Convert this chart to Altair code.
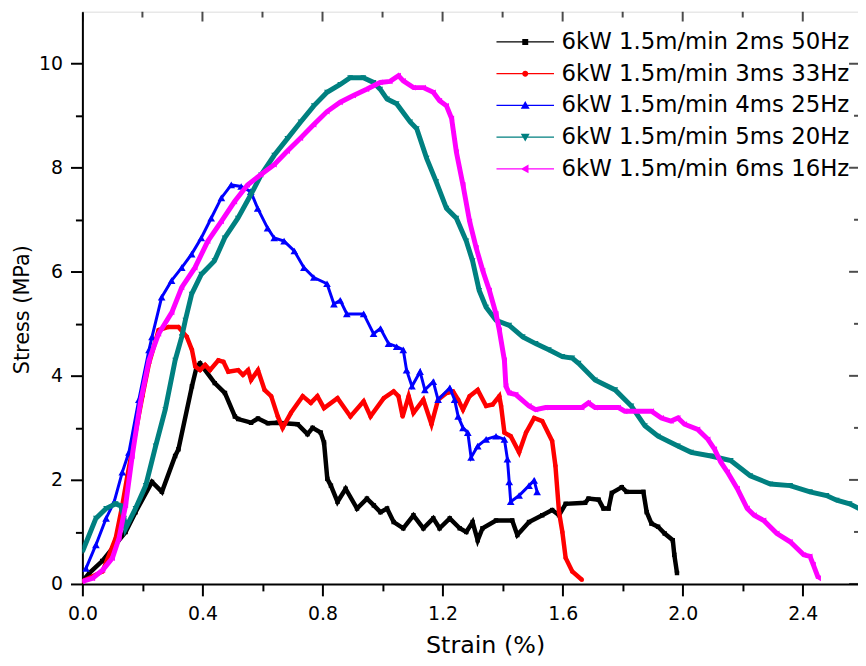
import altair as alt
import pandas as pd

labels = ["6kW 1.5m/min 2ms 50Hz", "6kW 1.5m/min 3ms 33Hz", "6kW 1.5m/min 4ms 25Hz",
          "6kW 1.5m/min 5ms 20Hz", "6kW 1.5m/min 6ms 16Hz"]
colors = ["#000000", "#ff0000", "#0000ff", "#008080", "#ff00ff"]
marker_shapes = ["square", "circle", "triangle-up", "triangle-down", "triangle-left"]
marker_sizes = [20, 20, 60, 35, 35]
line_widths = [4.5, 4.5, 3, 5, 5]

legend_paths = [
    "M-2.9,-0.06H2.9V0.06H-2.9Z M-0.3,-0.3H0.3V0.3H-0.3Z",
    "M-2.9,-0.06H2.9V0.06H-2.9Z M-0.3,0A0.3,0.3 0 1,1 0.3,0A0.3,0.3 0 1,1 -0.3,0Z",
    "M-2.9,-0.06H2.9V0.06H-2.9Z M0,-0.45L0.45,0.33L-0.45,0.33Z",
    "M-2.9,-0.06H2.9V0.06H-2.9Z M0,0.45L-0.45,-0.33L0.45,-0.33Z",
    "M-2.9,-0.06H2.9V0.06H-2.9Z M-0.45,0L0.33,-0.45L0.33,0.45Z",
]

black_x = [0.0, 0.023, 0.066, 0.144, 0.177, 0.232, 0.265, 0.309, 0.32, 0.365, 0.381, 0.392, 0.441, 0.475,
           0.508, 0.519, 0.562, 0.585, 0.618, 0.651, 0.717, 0.75, 0.767, 0.794, 0.805, 0.816, 0.828, 0.85,
           0.877, 0.915, 0.948, 0.971, 0.993, 1.015, 1.037, 1.069, 1.103, 1.136, 1.169, 1.19, 1.224, 1.257,
           1.279, 1.3, 1.317, 1.333, 1.378, 1.432, 1.449, 1.488, 1.532, 1.565, 1.588, 1.61, 1.675, 1.686,
           1.72, 1.736, 1.753, 1.764, 1.797, 1.813, 1.869, 1.88, 1.896, 1.918, 1.94, 1.967, 1.972, 1.981]
black_y = [0.05, 0.21, 0.44, 1.0, 1.38, 1.96, 1.77, 2.46, 2.59, 3.8, 4.18, 4.24, 3.86, 3.67,
           3.22, 3.17, 3.10, 3.18, 3.09, 3.1, 3.07, 2.88, 3.0, 2.91, 2.72, 2.02, 1.89, 1.58,
           1.83, 1.45, 1.64, 1.51, 1.38, 1.45, 1.19, 1.07, 1.32, 1.07, 1.26, 1.07, 1.26, 1.07,
           1.0, 1.19, 0.84, 1.07, 1.22, 1.22, 0.94, 1.19, 1.32, 1.42, 1.32, 1.54, 1.56, 1.64,
           1.62, 1.45, 1.45, 1.75, 1.86, 1.77, 1.77, 1.38, 1.16, 1.1, 0.97, 0.84, 0.56, 0.21]

red_x = [0.0, 0.067, 0.111, 0.133, 0.15, 0.177, 0.2, 0.222, 0.254, 0.287, 0.32, 0.348, 0.365, 0.376,
         0.392, 0.409, 0.425, 0.453, 0.47, 0.486, 0.519, 0.535, 0.552, 0.562, 0.585, 0.607, 0.629, 0.651,
         0.667, 0.695, 0.734, 0.761, 0.783, 0.805, 0.85, 0.893, 0.937, 0.96, 1.004, 1.037, 1.053, 1.067,
         1.087, 1.103, 1.136, 1.163, 1.185, 1.213, 1.235, 1.252, 1.268, 1.29, 1.317, 1.345, 1.367, 1.389,
         1.395, 1.406, 1.427, 1.455, 1.478, 1.505, 1.532, 1.565, 1.576, 1.588, 1.599, 1.61, 1.632, 1.664]
red_y = [0.05, 0.24, 0.88, 1.51, 2.08, 2.91, 3.61, 4.24, 4.88, 4.94, 4.94, 4.75, 4.5, 4.18,
         4.11, 4.21, 4.11, 4.3, 4.27, 4.08, 4.11, 4.02, 4.11, 3.92, 4.11, 3.73, 3.61, 3.22,
         3.0, 3.29, 3.61, 3.48, 3.61, 3.38, 3.57, 3.22, 3.51, 3.22, 3.57, 3.7, 3.61, 3.22,
         3.61, 3.29, 3.54, 3.07, 3.54, 3.67, 3.7, 3.54, 3.35, 3.61, 3.73, 3.42, 3.45, 3.61,
         3.42, 2.91, 2.84, 2.53, 2.91, 3.19, 3.13, 2.75, 2.27, 1.38, 1.0, 0.5, 0.24, 0.08]

blue_x = [0.012, 0.045, 0.079, 0.106, 0.133, 0.155, 0.188, 0.222, 0.232, 0.264, 0.297, 0.331, 0.364,
          0.396, 0.429, 0.463, 0.496, 0.529, 0.561, 0.584, 0.617, 0.639, 0.672, 0.706, 0.738, 0.771,
          0.815, 0.838, 0.859, 0.881, 0.937, 0.97, 0.993, 1.02, 1.047, 1.069, 1.08, 1.098, 1.125, 1.141,
          1.169, 1.185, 1.224, 1.24, 1.252, 1.268, 1.284, 1.295, 1.317, 1.345, 1.378, 1.406, 1.416,
          1.422, 1.427, 1.455, 1.488, 1.505, 1.515]
blue_y = [0.3, 0.75, 1.26, 1.58, 2.15, 2.53, 3.54, 4.5, 4.75, 5.51, 5.83, 6.08, 6.34,
          6.65, 7.03, 7.42, 7.67, 7.64, 7.54, 7.22, 6.84, 6.65, 6.59, 6.4, 6.08, 5.89,
          5.77, 5.38, 5.45, 5.19, 5.19, 4.81, 4.91, 4.62, 4.56, 4.5, 4.11, 3.8, 4.08, 3.73,
          3.89, 3.54, 3.77, 3.54, 3.22, 3.0, 2.91, 2.43, 2.65, 2.78, 2.84, 2.78, 2.4,
          1.96, 1.58, 1.7, 1.89, 1.99, 1.77]

teal_x = [0.0, 0.045, 0.079, 0.111, 0.128, 0.139, 0.144, 0.177, 0.211, 0.244, 0.276, 0.309, 0.331,
          0.343, 0.364, 0.396, 0.44, 0.474, 0.518, 0.561, 0.595, 0.639, 0.683, 0.727, 0.771, 0.815,
          0.859, 0.892, 0.936, 0.97, 0.992, 1.015, 1.047, 1.092, 1.114, 1.147, 1.179, 1.213, 1.246,
          1.279, 1.3, 1.322, 1.345, 1.378, 1.422, 1.467, 1.51, 1.554, 1.599, 1.632, 1.653, 1.708,
          1.775, 1.829, 1.874, 1.918, 1.984, 2.028, 2.094, 2.16, 2.225, 2.292, 2.358, 2.424, 2.479,
          2.513, 2.556, 2.588]
teal_y = [0.62, 1.26, 1.45, 1.54, 1.5, 1.26, 1.07, 1.45, 1.89, 2.65, 3.35, 4.3, 4.75,
          5.07, 5.57, 5.95, 6.21, 6.65, 7.03, 7.48, 7.86, 8.24, 8.56, 8.88, 9.19, 9.45,
          9.6, 9.73, 9.73, 9.64, 9.51, 9.32, 9.23, 8.88, 8.75, 8.18, 7.73, 7.22, 7.03,
          6.59, 6.21, 5.64, 5.32, 5.07, 4.97, 4.75, 4.62, 4.5, 4.37, 4.34, 4.24, 3.92,
          3.73, 3.42, 3.04, 2.84, 2.65, 2.53, 2.46, 2.37, 2.08, 1.92, 1.89, 1.77, 1.7,
          1.61, 1.54, 1.45]

magenta_x = [0.0, 0.034, 0.068, 0.1, 0.122, 0.144, 0.166, 0.193, 0.222, 0.254, 0.298, 0.331, 0.375,
             0.418, 0.463, 0.507, 0.55, 0.595, 0.639, 0.683, 0.727, 0.771, 0.815, 0.859, 0.903, 0.947,
             0.992, 1.025, 1.053, 1.069, 1.103, 1.136, 1.169, 1.19, 1.213, 1.23, 1.246, 1.268, 1.29,
             1.312, 1.334, 1.356, 1.378, 1.389, 1.406, 1.411, 1.422, 1.444, 1.488, 1.51, 1.543, 1.664,
             1.686, 1.708, 1.786, 1.807, 1.896, 1.929, 1.961, 1.984, 2.006, 2.05, 2.084, 2.106, 2.127,
             2.149, 2.182, 2.215, 2.238, 2.27, 2.314, 2.358, 2.403, 2.424, 2.435, 2.452]
magenta_y = [0.05, 0.11, 0.27, 0.5, 0.88, 1.51, 2.46, 3.48, 4.3, 4.81, 5.22, 5.7, 6.08,
             6.59, 6.97, 7.35, 7.67, 7.87, 8.06, 8.32, 8.57, 8.83, 9.08, 9.26, 9.39, 9.51,
             9.64, 9.66, 9.77, 9.67, 9.54, 9.54, 9.45, 9.29, 9.19, 8.95, 8.3, 7.67, 6.97,
             6.46, 6.02, 5.64, 5.19, 4.88, 4.3, 3.8, 3.67, 3.64, 3.42, 3.35, 3.39, 3.39,
             3.48, 3.39, 3.39, 3.32, 3.32, 3.19, 3.13, 3.19, 3.07, 2.97, 2.78, 2.59, 2.34,
             2.15, 1.83, 1.45, 1.32, 1.22, 0.97, 0.81, 0.56, 0.53, 0.37, 0.11]

x_major = [0.0, 0.4, 0.8, 1.2, 1.6, 2.0, 2.4]
x_minor = [0.2, 0.6, 1.0, 1.4, 1.8, 2.2]
y_major = [0, 2, 4, 6, 8, 10]
y_minor = [1, 3, 5, 7, 9]

X_MAX = 2.584
Y_MAX = 11
FONT = "DejaVu Sans"

xscale = alt.Scale(domain=[0, X_MAX], nice=False, zero=False)
yscale = alt.Scale(domain=[0, Y_MAX], nice=False, zero=False)

x_axis = alt.Axis(orient="bottom", values=x_major, format=".1f", tickSize=12, tickWidth=2,
                  tickColor="black", domainColor="black", domainWidth=2, labelFont=FONT,
                  labelFontSize=19, labelColor="black", labelPadding=9, labelFlush=False,
                  title="Strain (%)", titleFont=FONT, titleFontSize=24, titleFontWeight="normal",
                  titleColor="black", titleBaseline="alphabetic", titleY=69, titleX=406, grid=False)
y_axis = alt.Axis(orient="left", values=y_major, format="d", tickSize=12, tickWidth=2,
                  tickColor="black", domainColor="black", domainWidth=2, labelFont=FONT,
                  labelFontSize=19, labelColor="black", labelPadding=8, labelFlush=False,
                  title="Stress (MPa)", titleFont=FONT, titleFontSize=21, titleFontWeight="normal",
                  titleColor="black", titleBaseline="alphabetic", titleX=-54, titleY=300, grid=False)

series = [(black_x, black_y), (red_x, red_y), (blue_x, blue_y), (teal_x, teal_y), (magenta_x, magenta_y)]

layers = []
for i, (xs, ys) in enumerate(series):
    df = pd.DataFrame({"x": xs, "y": ys, "idx": list(range(len(xs)))})
    base = alt.Chart(df)
    xenc = alt.X("x:Q", scale=xscale, axis=x_axis if i == 0 else None)
    yenc = alt.Y("y:Q", scale=yscale, axis=y_axis if i == 0 else None)
    layers.append(base.mark_line(color=colors[i], strokeWidth=line_widths[i], clip=True)
                  .encode(x=xenc, y=yenc, order="idx:Q"))
    layers.append(base.mark_point(shape=marker_shapes[i], filled=True, size=marker_sizes[i],
                                  color=colors[i], opacity=1, clip=True)
                  .encode(x=alt.X("x:Q", scale=xscale, axis=None),
                          y=alt.Y("y:Q", scale=yscale, axis=None)))

# frame ticks (inward) on top and right, plus minor ticks on bottom/left
top_major = alt.Chart(pd.DataFrame({"x": x_major})).mark_tick(
    orient="vertical", size=20, thickness=2, color="black", clip=True).encode(
    x=alt.X("x:Q", scale=xscale, axis=None), y=alt.YDatum(Y_MAX, scale=yscale, axis=None))
top_minor = alt.Chart(pd.DataFrame({"x": x_minor})).mark_tick(
    orient="vertical", size=12, thickness=2, color="black", clip=True).encode(
    x=alt.X("x:Q", scale=xscale,
            axis=alt.Axis(orient="bottom", values=x_minor, labels=False, domain=False, tickSize=7,
                          tickWidth=2, tickColor="black", title=None, grid=False)),
    y=alt.YDatum(Y_MAX, scale=yscale, axis=None))
right_major = alt.Chart(pd.DataFrame({"y": y_major})).mark_tick(
    orient="horizontal", size=18, thickness=2, color="black", clip=True).encode(
    y=alt.Y("y:Q", scale=yscale, axis=None), x=alt.XDatum(X_MAX, scale=xscale, axis=None))
right_minor = alt.Chart(pd.DataFrame({"y": y_minor})).mark_tick(
    orient="horizontal", size=8, thickness=2, color="black", clip=True).encode(
    y=alt.Y("y:Q", scale=yscale,
            axis=alt.Axis(orient="left", values=y_minor, labels=False, domain=False, tickSize=7,
                          tickWidth=2, tickColor="black", title=None, grid=False)),
    x=alt.XDatum(X_MAX, scale=xscale, axis=None))

legend_cfg = dict(orient="none", legendX=435, legendY=19, title=None, labelFont=FONT,
                  labelFontSize=23, labelColor="black", labelLimit=500, rowPadding=8,
                  labelOffset=25, padding=0, symbolStrokeWidth=0, symbolSize=400)
legend_layer = alt.Chart(pd.DataFrame({"series": labels})).mark_point(
    filled=True, size=400, clip=True, opacity=1).encode(
    x=alt.value(-2000), y=alt.value(-2000),
    color=alt.Color("series:N", scale=alt.Scale(domain=labels, range=colors),
                    legend=alt.Legend(**legend_cfg)),
    shape=alt.Shape("series:N", scale=alt.Scale(domain=labels, range=legend_paths),
                    legend=alt.Legend(**legend_cfg)),
)

chart = alt.layer(*layers, top_major, top_minor, right_major, right_minor, legend_layer).resolve_axis(
    x="independent", y="independent").properties(
    width=782, height=577,
    autosize=alt.AutoSizeParams(type="none"),
    padding={"left": 75, "top": 1, "right": 0, "bottom": 78},
).configure_view(stroke="black", strokeWidth=2).configure(background="white")

chart.save("out.html", embed_options={"renderer": "svg", "actions": False})
